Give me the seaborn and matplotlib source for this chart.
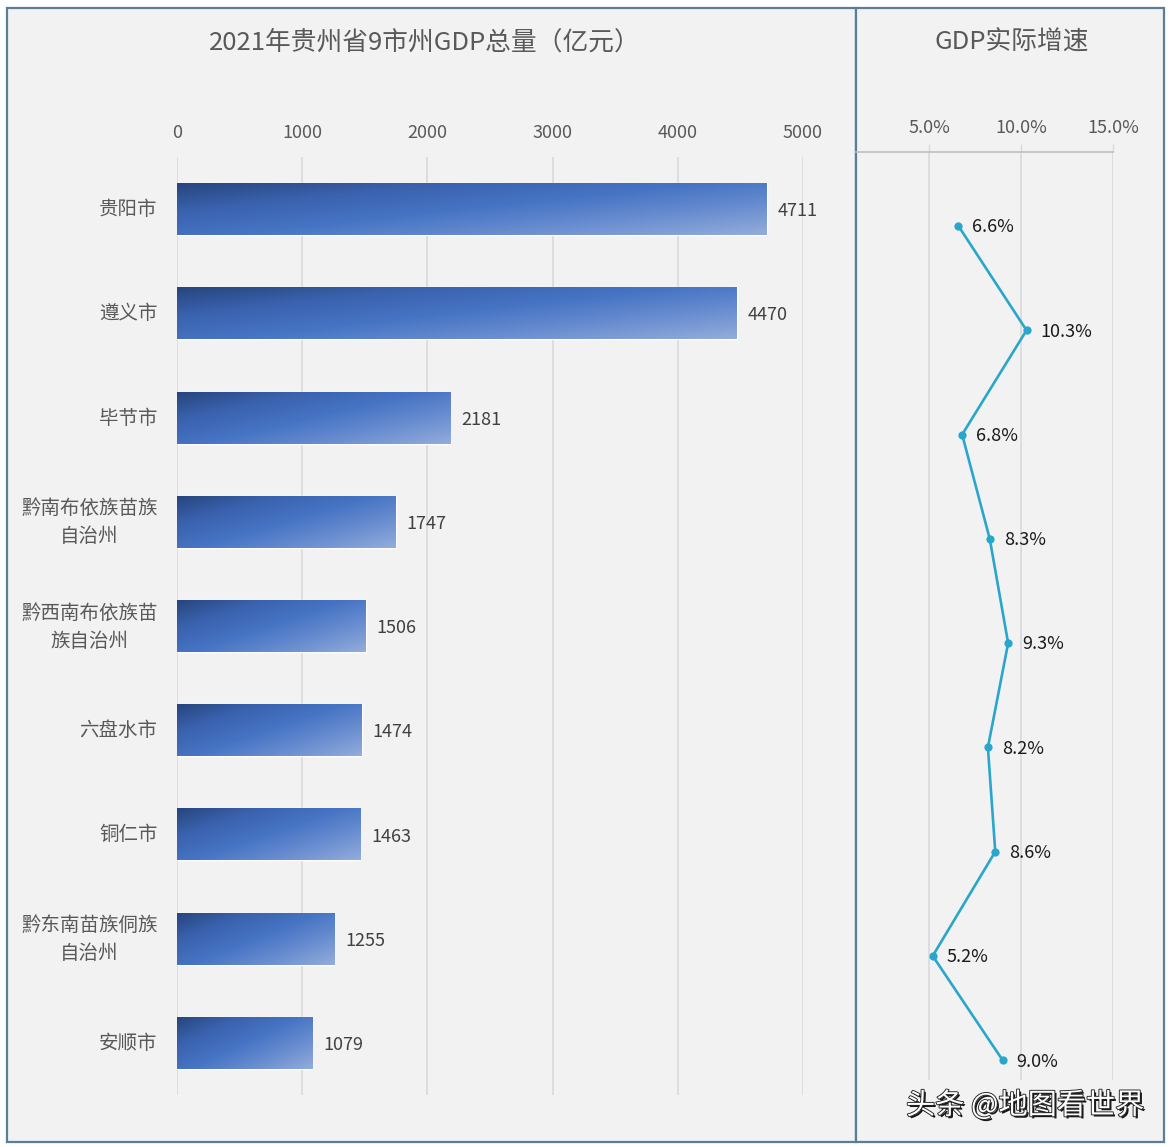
import numpy as np
import pandas as pd
import matplotlib
matplotlib.use("Agg")
import matplotlib.pyplot as plt
import matplotlib.patheffects as pe
import matplotlib.transforms as mtransforms
from matplotlib.colors import LinearSegmentedColormap
from matplotlib.patches import Rectangle
from matplotlib.ticker import FuncFormatter
import seaborn as sns

# ---- data ----
cities = ["贵阳市", "遵义市", "毕节市", "黔南布依族苗族\n自治州", "黔西南布依族苗\n族自治州",
          "六盘水市", "铜仁市", "黔东南苗族侗族\n自治州", "安顺市"]
gdp = [4711, 4470, 2181, 1747, 1506, 1474, 1463, 1255, 1079]
growth = [6.6, 10.3, 6.8, 8.3, 9.3, 8.2, 8.6, 5.2, 9.0]
gdp_ticks = [0, 1000, 2000, 3000, 4000, 5000]
growth_ticks = [5, 10, 15]
title_left = "2021年贵州省9市州GDP总量（亿元）"
title_right = "GDP实际增速"
watermark = "头条 @地图看世界"

sns.set_theme(style="white")
plt.rcParams["font.family"] = ["Noto Sans CJK SC", "DejaVu Sans"]

W, H = 1172, 1147
fig = plt.figure(figsize=(W / 100, H / 100), dpi=100)
fig.patch.set_facecolor("white")

def fx(px):
    return px / W

def fy(py):
    return 1 - py / H

# panels
border = "#5B7E96"
panel_bg = "#F2F2F2"
fig.patches.append(Rectangle((fx(7), fy(1142)), fx(856) - fx(7), fy(8) - fy(1142),
                             transform=fig.transFigure, facecolor=panel_bg,
                             edgecolor=border, linewidth=1.6, zorder=-5))
fig.patches.append(Rectangle((fx(856), fy(1142)), fx(1164) - fx(856), fy(8) - fy(1142),
                             transform=fig.transFigure, facecolor=panel_bg,
                             edgecolor=border, linewidth=1.6, zorder=-5))

grid_c = "#D9D9D9"
text_c = "#595959"

# ---- left: bar chart ----
ax1 = fig.add_axes([fx(177), fy(1095), fx(803) - fx(177), fy(157) - fy(1095)])
ax1.set_facecolor("none")
df = pd.DataFrame({"city": cities, "gdp": gdp})
sns.barplot(data=df, x="gdp", y="city", orient="h", ax=ax1, width=0.5,
            color="#4472C4", saturation=1, zorder=2)

cmap = LinearSegmentedColormap.from_list(
    "bar", ["#26457D", "#3A62AE", "#4674C4", "#6A8ED0", "#93ACDB"])
uu, vv = np.meshgrid(np.linspace(0, 1, 200), np.linspace(0, 1, 60))
grad = 0.55 * uu + 0.45 * vv
for p in list(ax1.patches):
    x0, y0, w, h = p.get_x(), p.get_y(), p.get_width(), p.get_height()
    im = ax1.imshow(grad, cmap=cmap, extent=(x0, x0 + w, y0 + h, y0),
                    aspect="auto", origin="upper", zorder=3, interpolation="bilinear")
    im.set_clip_path(p)
    ax1.annotate(f"{int(round(w))}", xy=(x0 + w, y0 + h / 2), xytext=(8, -1.5),
                 textcoords="offset points", ha="left", va="center",
                 fontsize=13, color="#404040", zorder=4)

ax1.set_xlim(0, 5000)
ax1.set_ylim(8.5, -0.5)
ax1.set_xticks(gdp_ticks)
ax1.xaxis.tick_top()
ax1.tick_params(axis="x", length=0, pad=11, labelsize=13, labelcolor=text_c)
ax1.tick_params(axis="y", length=0, pad=14, labelsize=14, labelcolor=text_c)
for lab in ax1.get_yticklabels():
    lab.set_multialignment("center")
    lab.set_linespacing(1.45)
    shift = 5 if "\n" in lab.get_text() else 2
    lab.set_transform(lab.get_transform() +
                      mtransforms.ScaledTranslation(0, shift / 100, fig.dpi_scale_trans))
ax1.set_xlabel("")
ax1.set_ylabel("")
ax1.grid(axis="x", color=grid_c, linewidth=1.2, zorder=0)
ax1.set_axisbelow(True)
for s in ax1.spines.values():
    s.set_visible(False)

# ---- right: growth line ----
ax2 = fig.add_axes([fx(856), fy(1080), fx(1113) - fx(856), fy(152) - fy(1080)])
ax2.set_facecolor("none")
line_c = "#2AA6CB"
gdf = pd.DataFrame({"city": cities, "growth": growth})
sns.pointplot(data=gdf, x="growth", y="city", orient="h", ax=ax2, color=line_c,
              markers="o", markersize=4.5, linewidth=1.9, errorbar=None)
for i, v in enumerate(growth):
    ax2.annotate(f"{v:.1f}%", xy=(v, i), xytext=(10, -1), textcoords="offset points",
                 ha="left", va="center", fontsize=13, color="#1A1A1A")
ax2.set_xlim(1.03, 15)
ax2.set_ylim(8.19, -0.71)
ax2.set_xticks(growth_ticks)
ax2.xaxis.set_major_formatter(FuncFormatter(lambda v, _: f"{v:.1f}%"))
ax2.xaxis.tick_top()
ax2.tick_params(axis="x", length=6, width=1, color=grid_c, pad=5,
                labelsize=13, labelcolor=text_c)
ax2.set_yticks([])
ax2.set_xlabel("")
ax2.set_ylabel("")
ax2.grid(axis="x", color=grid_c, linewidth=1.2)
ax2.set_axisbelow(True)
for k, s in ax2.spines.items():
    s.set_visible(k == "top")
ax2.spines["top"].set_color("#BFBFBF")
ax2.spines["top"].set_linewidth(1.2)

# ---- titles ----
fig.text(fx(425), fy(43), title_left, ha="center", va="center", fontsize=18.5, color=text_c)
fig.text(fx(1012), fy(43), title_right, ha="center", va="center", fontsize=18.5, color=text_c)

# watermark
fig.text(fx(1025), fy(1106), watermark, ha="center", va="center", fontsize=21,
         color="white",
         path_effects=[pe.withSimplePatchShadow(offset=(1.5, -1.5), shadow_rgbFace="black", alpha=0.9),
                       pe.withStroke(linewidth=1.3, foreground="#222222")])

fig.savefig("out.png", dpi=100, facecolor=fig.get_facecolor())
